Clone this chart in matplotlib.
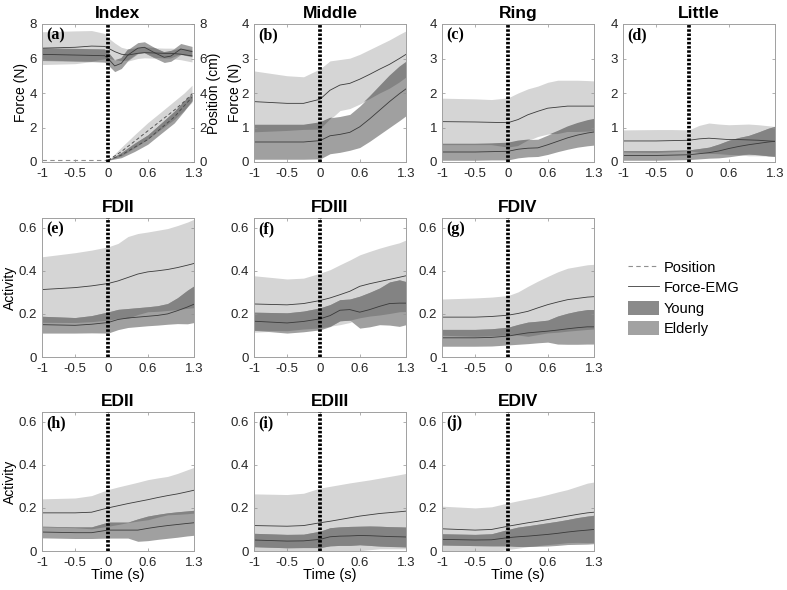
import numpy as np
import matplotlib
matplotlib.use('Agg')
import matplotlib.pyplot as plt
from matplotlib.patches import Patch
from matplotlib.lines import Line2D

plt.rcParams['font.family'] = ['Liberation Sans', 'DejaVu Sans']
plt.rcParams['font.size'] = 9

# ---- data ----
# time grid for panel (a) force
t_a = [-1, -0.5, -0.25, -0.05, 0, 0.1, 0.2, 0.3, 0.45, 0.55, 0.7, 0.85, 0.95, 1.1, 1.27]
a_force_eld_m = [6.6, 6.65, 6.72, 6.7, 6.6, 6.4, 6.25, 6.2, 6.3, 6.34, 6.32, 6.3, 6.3, 6.25, 6.15]
a_force_eld_s = [0.95, 0.95, 0.9, 0.75, 0.6, 0.5, 0.4, 0.35, 0.3, 0.3, 0.3, 0.3, 0.3, 0.32, 0.35]
a_force_yng_m = [6.24, 6.2, 6.18, 6.16, 6.0, 5.57, 5.72, 6.2, 6.6, 6.65, 6.34, 6.07, 6.14, 6.55, 6.4]
a_force_yng_s = [0.36, 0.36, 0.36, 0.37, 0.38, 0.33, 0.3, 0.32, 0.32, 0.32, 0.3, 0.3, 0.3, 0.32, 0.3]

# time grid for panel (a) position
t_pos = [-1, 0, 0.2, 0.4, 0.6, 0.8, 1.0, 1.15, 1.27]
a_pos_eld_m = [0.1, 0.1, 0.6, 1.2, 1.8, 2.4, 3.0, 3.5, 3.95]
a_pos_eld_s = [0, 0, 0.25, 0.38, 0.48, 0.5, 0.53, 0.5, 0.5]
a_pos_yng_m = [0.1, 0.1, 0.4, 0.85, 1.3, 1.95, 2.6, 3.25, 3.75]
a_pos_yng_s = [0, 0, 0.15, 0.24, 0.27, 0.3, 0.34, 0.3, 0.2]

# common time grid for (b)-(j)
t = [-1, -0.5, -0.25, 0, 0.15, 0.3, 0.45, 0.6, 0.75, 0.9, 1.05, 1.2, 1.3]

# (b) Middle
b_eld_m = [1.75, 1.70, 1.70, 1.82, 2.08, 2.23, 2.28, 2.40, 2.54, 2.69, 2.83, 3.0, 3.12]
b_eld_s = [0.89, 0.8, 0.77, 0.88, 0.85, 0.74, 0.73, 0.72, 0.72, 0.71, 0.71, 0.7, 0.68]
b_yng_m = [0.58, 0.58, 0.58, 0.62, 0.76, 0.8, 0.86, 1.02, 1.25, 1.5, 1.75, 1.98, 2.12]
b_yng_s = [0.5, 0.5, 0.5, 0.53, 0.52, 0.52, 0.52, 0.6, 0.65, 0.7, 0.75, 0.78, 0.78]
# (c) Ring
c_eld_m = [1.17, 1.16, 1.15, 1.14, 1.23, 1.37, 1.47, 1.56, 1.59, 1.62, 1.62, 1.62, 1.62]
c_eld_s = [0.68, 0.67, 0.66, 0.72, 0.77, 0.75, 0.73, 0.75, 0.78, 0.75, 0.75, 0.74, 0.73]
c_yng_m = [0.29, 0.29, 0.3, 0.31, 0.37, 0.4, 0.41, 0.5, 0.6, 0.7, 0.78, 0.84, 0.87]
c_yng_s = [0.24, 0.24, 0.24, 0.25, 0.25, 0.25, 0.25, 0.28, 0.3, 0.33, 0.35, 0.37, 0.38]
# (d) Little
d_eld_m = [0.61, 0.61, 0.62, 0.63, 0.67, 0.69, 0.67, 0.65, 0.65, 0.64, 0.63, 0.61, 0.6]
d_eld_s = [0.32, 0.33, 0.32, 0.3, 0.39, 0.44, 0.43, 0.43, 0.44, 0.46, 0.45, 0.44, 0.43]
d_yng_m = [0.19, 0.19, 0.2, 0.21, 0.24, 0.27, 0.32, 0.39, 0.45, 0.5, 0.54, 0.58, 0.6]
d_yng_s = [0.14, 0.14, 0.14, 0.14, 0.15, 0.16, 0.2, 0.24, 0.26, 0.27, 0.33, 0.4, 0.44]
# (e) FDII
e_eld_m = [0.313, 0.322, 0.33, 0.341, 0.353, 0.369, 0.385, 0.395, 0.4, 0.406, 0.415, 0.426, 0.434]
e_eld_s = [0.152, 0.162, 0.166, 0.17, 0.174, 0.19, 0.188, 0.185, 0.188, 0.19, 0.195, 0.2, 0.205]
e_yng_m = [0.15, 0.147, 0.152, 0.16, 0.174, 0.181, 0.185, 0.189, 0.193, 0.2, 0.215, 0.232, 0.245]
e_yng_s = [0.039, 0.036, 0.04, 0.049, 0.047, 0.044, 0.044, 0.044, 0.045, 0.048, 0.06, 0.078, 0.085]
# (f) FDIII
f_eld_m = [0.246, 0.242, 0.248, 0.262, 0.274, 0.289, 0.305, 0.328, 0.34, 0.35, 0.36, 0.37, 0.377]
f_eld_s = [0.131, 0.12, 0.118, 0.127, 0.131, 0.139, 0.145, 0.146, 0.15, 0.155, 0.158, 0.16, 0.166]
f_yng_m = [0.166, 0.158, 0.165, 0.177, 0.192, 0.217, 0.22, 0.208, 0.22, 0.235, 0.248, 0.25, 0.25]
f_yng_s = [0.042, 0.047, 0.048, 0.051, 0.051, 0.049, 0.049, 0.074, 0.08, 0.085, 0.1, 0.108, 0.1]
# (g) FDIV
g_eld_m = [0.185, 0.185, 0.188, 0.194, 0.202, 0.212, 0.228, 0.243, 0.255, 0.266, 0.272, 0.278, 0.28]
g_eld_s = [0.084, 0.089, 0.09, 0.091, 0.1, 0.116, 0.124, 0.131, 0.14, 0.146, 0.148, 0.15, 0.15]
g_yng_m = [0.089, 0.089, 0.091, 0.097, 0.105, 0.112, 0.116, 0.12, 0.125, 0.131, 0.136, 0.14, 0.14]
g_yng_s = [0.039, 0.039, 0.04, 0.041, 0.046, 0.05, 0.05, 0.051, 0.065, 0.072, 0.077, 0.08, 0.08]
# (h) EDII
h_eld_m = [0.177, 0.177, 0.18, 0.2, 0.21, 0.22, 0.229, 0.238, 0.248, 0.257, 0.265, 0.275, 0.282]
h_eld_s = [0.065, 0.069, 0.077, 0.085, 0.087, 0.088, 0.09, 0.093, 0.091, 0.089, 0.095, 0.102, 0.106]
h_yng_m = [0.088, 0.085, 0.085, 0.097, 0.097, 0.097, 0.097, 0.105, 0.112, 0.118, 0.123, 0.128, 0.131]
h_yng_s = [0.027, 0.027, 0.027, 0.037, 0.037, 0.037, 0.052, 0.057, 0.058, 0.059, 0.059, 0.058, 0.058]
# (i) EDIII
i_eld_m = [0.118, 0.115, 0.118, 0.131, 0.138, 0.146, 0.154, 0.162, 0.168, 0.174, 0.178, 0.182, 0.185]
i_eld_s = [0.147, 0.147, 0.15, 0.161, 0.162, 0.162, 0.162, 0.161, 0.162, 0.164, 0.168, 0.172, 0.175]
i_yng_m = [0.051, 0.046, 0.047, 0.054, 0.066, 0.069, 0.07, 0.072, 0.071, 0.069, 0.067, 0.066, 0.065]
i_yng_s = [0.031, 0.031, 0.031, 0.038, 0.042, 0.043, 0.044, 0.043, 0.045, 0.046, 0.046, 0.046, 0.046]
# (j) EDIV
j_eld_m = [0.103, 0.097, 0.1, 0.115, 0.123, 0.131, 0.138, 0.146, 0.154, 0.162, 0.17, 0.177, 0.18]
j_eld_s = [0.105, 0.103, 0.105, 0.108, 0.11, 0.111, 0.113, 0.116, 0.12, 0.123, 0.13, 0.138, 0.14]
j_yng_m = [0.054, 0.051, 0.052, 0.062, 0.066, 0.069, 0.073, 0.077, 0.082, 0.088, 0.093, 0.097, 0.1]
j_yng_s = [0.026, 0.026, 0.028, 0.038, 0.045, 0.048, 0.051, 0.054, 0.056, 0.058, 0.062, 0.065, 0.066]

titles = ['Index', 'Middle', 'Ring', 'Little', 'FDII', 'FDIII', 'FDIV', 'EDII', 'EDIII', 'EDIV']
letters = ['(a)', '(b)', '(c)', '(d)', '(e)', '(f)', '(g)', '(h)', '(i)', '(j)']
xticks = [-1, -0.5, 0, 0.6, 1.3]
xticklabels = ['-1', '-0.5', '0', '0.6', '1.3']

# ---- styles ----
col_eld = '#d5d5d5'
col_yng = '#a0a0a0'
col_ovl = '#838383'
col_line = '#3a3a3a'

# axes positions in pixels (left, top) on a 787x590 canvas
W, H = 787, 590
col_left = [42, 254, 442, 623]
row_top = [24, 218, 412]
row_h = [138, 139, 139]
ax_w = 152

fig = plt.figure(figsize=(W / 100, H / 100), dpi=100)


def add_ax(col, row):
    return fig.add_axes([col_left[col] / W, 1 - (row_top[row] + row_h[row]) / H,
                         ax_w / W, row_h[row] / H])


def draw_bands(ax, tt, m_e, s_e, m_y, s_y, ls='-', lc=col_line):
    tt = np.asarray(tt)
    m_e, s_e, m_y, s_y = map(np.asarray, (m_e, s_e, m_y, s_y))
    lo_e, hi_e = m_e - s_e, m_e + s_e
    lo_y, hi_y = m_y - s_y, m_y + s_y
    ax.fill_between(tt, lo_e, hi_e, color=col_eld, lw=0)
    ax.fill_between(tt, lo_y, hi_y, color=col_yng, lw=0)
    # where both groups overlap the band is darker
    lo_o = np.maximum(lo_e, lo_y)
    hi_o = np.minimum(hi_e, hi_y)
    ax.fill_between(tt, lo_o, hi_o, where=hi_o > lo_o, interpolate=True, color=col_ovl, lw=0)
    ax.plot(tt, m_e, color=lc, lw=0.6, ls=ls)
    ax.plot(tt, m_y, color=lc, lw=0.6, ls=ls)


def style(ax, ylim, yticks, yticklabels, idx):
    ax.set_xlim(-1, 1.3)
    ax.set_xticks(xticks)
    ax.set_xticklabels(xticklabels)
    ax.set_ylim(ylim)
    ax.set_yticks(yticks)
    ax.set_yticklabels(yticklabels)
    ax.tick_params(direction='in', length=2.5, width=0.5, top=True, right=True,
                   color='#909090', labelcolor='#262626', labelsize=9.5)
    ax.tick_params(axis='x', pad=4.5)
    ax.tick_params(axis='y', pad=3.5)
    for s in ax.spines.values():
        s.set_color('#a0a0a0')
        s.set_linewidth(0.7)
    ax.axvline(0, color='k', lw=2.7, linestyle=(0, (0.67, 0.45)), zorder=5)
    ax.set_title(titles[idx], fontweight='bold', fontsize=12.5, pad=4)
    ax.text(0.03, 0.975, letters[idx], transform=ax.transAxes, ha='left', va='top',
            fontsize=11.5, fontweight='bold', family='Liberation Serif', zorder=6)


force_ticks = [0, 1, 2, 3, 4]
act_ticks = [0, 0.2, 0.4, 0.6]
act_labels = ['0', '0.2', '0.4', '0.6']

# ---- (a) Index: force + position ----
ax = add_ax(0, 0)
draw_bands(ax, t_a, a_force_eld_m, a_force_eld_s, a_force_yng_m, a_force_yng_s)
draw_bands(ax, t_pos[1:], a_pos_eld_m[1:], a_pos_eld_s[1:], a_pos_yng_m[1:], a_pos_yng_s[1:],
           ls=(0, (4, 3)), lc='#444444')
ax.plot(t_pos[:2], a_pos_eld_m[:2], color='#909090', lw=0.8, ls=(0, (4, 3)))
style(ax, (0, 8), [0, 2, 4, 6, 8], ['0', '2', '4', '6', '8'], 0)
ax.tick_params(right=False)
ax.set_ylabel('Force (N)', fontsize=10, labelpad=1)
ax2 = ax.twinx()
ax2.set_ylim(0, 8)
ax2.set_yticks([0, 2, 4, 6, 8])
ax2.tick_params(direction='in', length=2.5, width=0.5, color='#909090',
                labelcolor='#262626', labelsize=9.5, pad=4)
for s in ax2.spines.values():
    s.set_visible(False)
ax2.set_ylabel('Position (cm)', fontsize=10, labelpad=0)

# ---- (b)-(d) force ----
force_data = [(b_eld_m, b_eld_s, b_yng_m, b_yng_s),
              (c_eld_m, c_eld_s, c_yng_m, c_yng_s),
              (d_eld_m, d_eld_s, d_yng_m, d_yng_s)]
for k, dat in enumerate(force_data):
    ax = add_ax(k + 1, 0)
    draw_bands(ax, t, *dat)
    style(ax, (0, 4), force_ticks, [str(v) for v in force_ticks], k + 1)
    if k == 0:
        ax.set_ylabel('Force (N)', fontsize=10, labelpad=0)

# ---- (e)-(j) EMG activity ----
emg_data = [(e_eld_m, e_eld_s, e_yng_m, e_yng_s),
            (f_eld_m, f_eld_s, f_yng_m, f_yng_s),
            (g_eld_m, g_eld_s, g_yng_m, g_yng_s),
            (h_eld_m, h_eld_s, h_yng_m, h_yng_s),
            (i_eld_m, i_eld_s, i_yng_m, i_yng_s),
            (j_eld_m, j_eld_s, j_yng_m, j_yng_s)]
for k, dat in enumerate(emg_data):
    row = 1 + k // 3
    col = k % 3
    ax = add_ax(col, row)
    draw_bands(ax, t, *dat)
    style(ax, (0, 0.645), act_ticks, act_labels, 4 + k)
    if col == 0:
        ax.set_ylabel('Activity', fontsize=10, labelpad=1)
    if row == 2:
        ax.set_xlabel('Time (s)', fontsize=10.5, labelpad=-1)

# ---- legend ----
handles = [Line2D([], [], color='#909090', lw=0.8, ls=(0, (4, 3))),
           Line2D([], [], color='#3a3a3a', lw=0.6),
           Patch(facecolor='#8a8a8a', edgecolor='none'),
           Patch(facecolor='#a2a2a2', edgecolor='none')]
labels = ['Position', 'Force-EMG', 'Young', 'Elderly']
fig.legend(handles, labels, loc='upper left', bbox_to_anchor=(628 / W, 1 - 260 / H),
           frameon=False, fontsize=10.5, handlelength=2.1, handleheight=1.1,
           handletextpad=0.35, labelspacing=0.38, borderpad=0, borderaxespad=0)

fig.savefig('out.png', dpi=100)
